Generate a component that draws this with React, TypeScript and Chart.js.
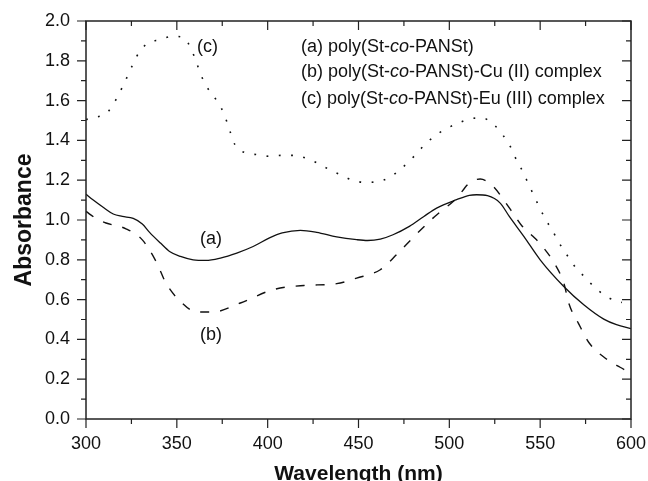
import React, { useEffect, useRef } from "react";
import { Chart, registerables } from "chart.js";

Chart.register(...registerables);

const FONT = 'Arial, "Liberation Sans", Helvetica, sans-serif';

// (a) poly(St-co-PANSt) — solid
const wavelengthA = [300, 304, 310, 315, 320, 326, 331, 335, 341, 346, 352, 359, 366, 374, 383, 392, 401, 408, 418, 427, 438, 449, 455, 462, 469, 478, 486, 493, 504, 511, 515, 521, 528, 533, 541, 550, 563, 574, 585, 592, 600];
const absorbanceA = [1.13, 1.1, 1.06, 1.03, 1.018, 1.008, 0.98, 0.938, 0.884, 0.842, 0.817, 0.8, 0.797, 0.809, 0.834, 0.867, 0.91, 0.935, 0.948, 0.938, 0.915, 0.901, 0.897, 0.904, 0.926, 0.968, 1.018, 1.06, 1.102, 1.124, 1.127, 1.122, 1.085, 1.018, 0.918, 0.8, 0.666, 0.574, 0.502, 0.474, 0.454];

// (b) Cu (II) complex — dashed
const wavelengthB = [300, 306, 311, 322, 331, 339, 344, 352, 361, 370, 385, 403, 420, 438, 449, 462, 471, 481, 492, 504, 511, 517, 524, 530, 535, 540, 546, 551, 558, 563, 566, 571, 577, 587, 594, 600];
const absorbanceB = [1.043, 1.005, 0.985, 0.956, 0.9, 0.784, 0.683, 0.591, 0.538, 0.538, 0.583, 0.65, 0.671, 0.68, 0.708, 0.75, 0.826, 0.921, 1.018, 1.11, 1.186, 1.206, 1.17, 1.1, 1.035, 0.97, 0.918, 0.87, 0.78, 0.683, 0.575, 0.482, 0.382, 0.298, 0.26, 0.23];

// (c) Eu (III) complex — dotted
const wavelengthC = [300, 305.5, 312, 316.5, 319.6, 322.7, 325.7, 329, 334, 340.7, 347.7, 354, 358, 360.6, 363, 366.4, 371, 374.7, 377.5, 379.6, 382, 388, 394.8, 401, 407.7, 414, 421, 427.3, 434, 440.8, 447, 453.6, 460, 466.4, 472.9, 479.3, 485.3, 491.6, 498, 505, 511.4, 517.8, 524.2, 529.7, 534, 537, 540.4, 543.5, 546.6, 549.5, 553.2, 557, 560.5, 564.6, 569, 575, 581, 588, 595];
const absorbanceC = [1.505, 1.516, 1.543, 1.605, 1.66, 1.72, 1.78, 1.839, 1.889, 1.906, 1.923, 1.915, 1.856, 1.797, 1.735, 1.671, 1.613, 1.558, 1.495, 1.437, 1.378, 1.337, 1.328, 1.32, 1.325, 1.325, 1.311, 1.286, 1.253, 1.224, 1.199, 1.189, 1.192, 1.211, 1.253, 1.308, 1.367, 1.42, 1.457, 1.487, 1.508, 1.513, 1.482, 1.424, 1.362, 1.3, 1.244, 1.182, 1.122, 1.065, 1.0, 0.943, 0.884, 0.826, 0.767, 0.709, 0.653, 0.608, 0.585];

const xMin = 300;
const xMax = 600;
const xMajorStep = 50;
const xMinorStep = 25;
const yMin = 0;
const yMax = 2;
const yMajorStep = 0.2;
const yMinorStep = 0.1;

const xTitle = "Wavelength (nm)";
const yTitle = "Absorbance";

const legendLines: string[][] = [
  ["(a) poly(St-", "co", "-PANSt)"],
  ["(b) poly(St-", "co", "-PANSt)-Cu (II) complex"],
  ["(c) poly(St-", "co", "-PANSt)-Eu (III) complex"],
];
const legendX = 418.4;
const legendY = [1.871, 1.746, 1.61];

const curveLabels = [
  { text: "(c)", x: 361.1, y: 1.871 },
  { text: "(a)", x: 362.8, y: 0.906 },
  { text: "(b)", x: 362.8, y: 0.424 },
];

const toPoints = (xs: number[], ys: number[]) => xs.map((x, i) => ({ x, y: ys[i] }));

const W = 648;
const H = 490;
const PLOT_LEFT = 86;
const PLOT_TOP = 21;
const PLOT_BOTTOM = 419;
const RIGHT_PAD = 17;

const framePlugin = {
  id: "frameAndText",
  afterDraw(chart: any) {
    const { ctx, chartArea: a } = chart;
    const xs = chart.scales.x;
    const ys = chart.scales.y;
    ctx.save();
    ctx.strokeStyle = "#222";
    ctx.lineWidth = 1.5;
    ctx.strokeRect(a.left, a.top, a.right - a.left, a.bottom - a.top);
    ctx.lineWidth = 1.2;
    ctx.beginPath();
    for (let v = xMin; v <= xMax + 1e-9; v += xMinorStep) {
      const px = xs.getPixelForValue(v);
      const len = Math.abs(v % xMajorStep) < 1e-6 ? 9 : 5;
      ctx.moveTo(px, a.bottom);
      ctx.lineTo(px, a.bottom + len);
      ctx.moveTo(px, a.top);
      ctx.lineTo(px, a.top + len);
    }
    const nY = Math.round((yMax - yMin) / yMinorStep);
    const ratio = Math.round(yMajorStep / yMinorStep);
    for (let i = 0; i <= nY; i++) {
      const v = yMin + i * yMinorStep;
      const py = ys.getPixelForValue(v);
      const len = i % ratio === 0 ? 9 : 5;
      ctx.moveTo(a.left - len, py);
      ctx.lineTo(a.left, py);
      ctx.moveTo(a.right - len, py);
      ctx.lineTo(a.right, py);
    }
    ctx.stroke();

    ctx.fillStyle = "#111";
    ctx.textBaseline = "middle";
    ctx.textAlign = "left";
    const normal = `18px ${FONT}`;
    const italic = `italic 18px ${FONT}`;
    ctx.font = normal;
    curveLabels.forEach((l) => {
      ctx.fillText(l.text, xs.getPixelForValue(l.x), ys.getPixelForValue(l.y));
    });
    legendLines.forEach((parts, i) => {
      let px = xs.getPixelForValue(legendX);
      const py = ys.getPixelForValue(legendY[i]);
      parts.forEach((p, j) => {
        ctx.font = j === 1 ? italic : normal;
        ctx.fillText(p, px, py);
        px += ctx.measureText(p).width;
      });
    });
    ctx.restore();
  },
};

export default function App() {
  const ref = useRef<HTMLCanvasElement | null>(null);
  useEffect(() => {
    if (!ref.current) return;
    const lineBase = {
      borderColor: "#111",
      pointRadius: 0,
      fill: false,
      cubicInterpolationMode: "monotone" as const,
    };
    const chart = new Chart(ref.current, {
      type: "line",
      data: {
        datasets: [
          { ...lineBase, label: "(a)", data: toPoints(wavelengthA, absorbanceA), borderWidth: 1.3 },
          { ...lineBase, label: "(b)", data: toPoints(wavelengthB, absorbanceB), borderWidth: 1.4, borderDash: [9, 11] },
          { ...lineBase, label: "(c)", data: toPoints(wavelengthC, absorbanceC), borderWidth: 1.6, borderDash: [1.8, 10.5] },
        ],
      },
      options: {
        animation: false,
        responsive: false,
        events: [],
        layout: { padding: { top: PLOT_TOP, right: RIGHT_PAD, left: 0, bottom: 0 } },
        plugins: { legend: { display: false }, tooltip: { enabled: false } },
        scales: {
          x: {
            type: "linear",
            min: xMin,
            max: xMax,
            grid: { display: false, drawTicks: false },
            border: { display: false },
            ticks: {
              stepSize: xMajorStep,
              padding: 14,
              color: "#111",
              font: { family: FONT, size: 18 },
              maxRotation: 0,
            },
            title: {
              display: true,
              text: xTitle,
              color: "#111",
              font: { family: FONT, size: 21, weight: "bold" },
              padding: { top: 0, bottom: 3 },
            },
            afterFit: (s: any) => {
              s.height = H - PLOT_BOTTOM;
              s.paddingLeft = 0;
              s.paddingRight = 0;
            },
          },
          y: {
            type: "linear",
            min: yMin,
            max: yMax,
            grid: { display: false, drawTicks: false },
            border: { display: false },
            ticks: {
              stepSize: yMajorStep,
              padding: 16,
              color: "#111",
              font: { family: FONT, size: 18 },
              callback: (v: any) => Number(v).toFixed(1),
            },
            title: {
              display: true,
              text: yTitle,
              color: "#111",
              font: { family: FONT, size: 23, weight: "bold" },
              padding: { top: 11, bottom: 0 },
            },
            afterFit: (s: any) => {
              s.width = PLOT_LEFT;
              s.paddingTop = 0;
              s.paddingBottom = 0;
            },
          },
        },
      },
      plugins: [framePlugin],
    });
    return () => chart.destroy();
  }, []);
  return (
    <div style={{ position: "fixed", left: 0, top: 0, width: W, height: H, background: "#fff" }}>
      <canvas ref={ref} width={W} height={H} style={{ display: "block" }} />
    </div>
  );
}
